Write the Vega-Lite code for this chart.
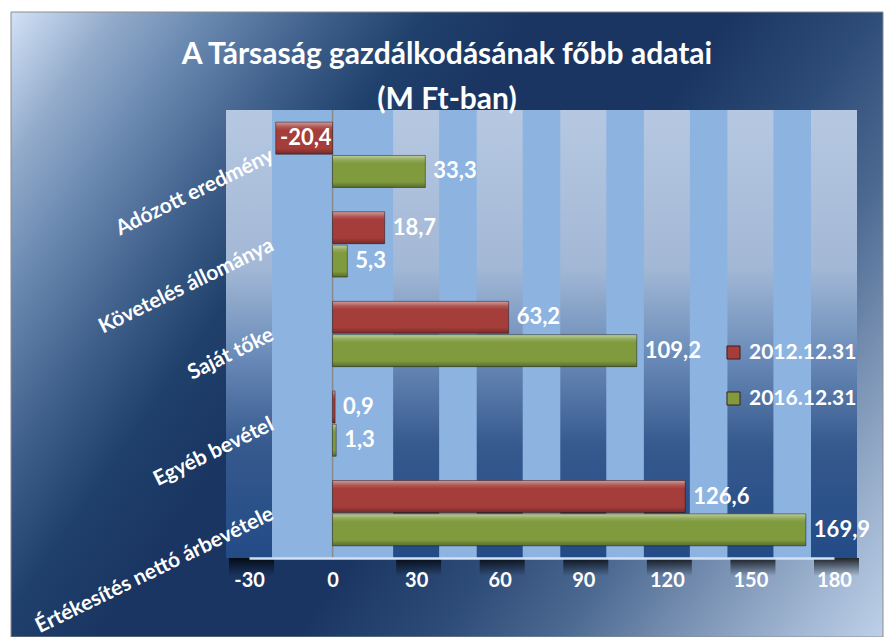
{
  "$schema": "https://vega.github.io/schema/vega-lite/v6.json",
  "width": 872,
  "height": 625,
  "autosize": {"type": "none"},
  "padding": {"left": 11, "top": 12, "right": 5, "bottom": 0},
  "background": "white",
  "config": {
    "locale": {"number": {"decimal": ",", "thousands": " ", "grouping": [3], "currency": ["", " Ft"], "minus": "-"}},
    "view": {"stroke": null},
    "font": "Lato"
  },
  "title": {
    "text": ["A Társaság gazdálkodásának főbb adatai", "(M Ft-ban)"],
    "anchor": "middle",
    "frame": "group",
    "font": "Lato",
    "fontSize": 30,
    "fontWeight": "bold",
    "color": "white",
    "lineHeight": 45,
    "baseline": "top",
    "offset": -103
  },
  "datasets": {
    "bars": [
      {"tetel": "Adózott eredmény", "ev": "2012.12.31", "ertek": -20.4},
      {"tetel": "Adózott eredmény", "ev": "2016.12.31", "ertek": 33.3},
      {"tetel": "Követelés állománya", "ev": "2012.12.31", "ertek": 18.7},
      {"tetel": "Követelés állománya", "ev": "2016.12.31", "ertek": 5.3},
      {"tetel": "Saját tőke", "ev": "2012.12.31", "ertek": 63.2},
      {"tetel": "Saját tőke", "ev": "2016.12.31", "ertek": 109.2},
      {"tetel": "Egyéb bevétel", "ev": "2012.12.31", "ertek": 0.9},
      {"tetel": "Egyéb bevétel", "ev": "2016.12.31", "ertek": 1.3},
      {"tetel": "Értékesítés nettó árbevétele", "ev": "2012.12.31", "ertek": 126.6},
      {"tetel": "Értékesítés nettó árbevétele", "ev": "2016.12.31", "ertek": 169.9}
    ],
    "grid": [{"g": -30}, {"g": 30}, {"g": 60}, {"g": 90}, {"g": 120}, {"g": 150}, {"g": 180}]
  },
  "resolve": {"scale": {"y": "independent"}},
  "layer": [
    {
      "layer": [
        {
          "data": {"values": [{}]},
          "mark": {
            "type": "rect",
            "stroke": "#8c8c8c",
            "strokeWidth": 1,
            "fill": {
              "gradient": "linear", "x1": 0, "y1": 0, "x2": 1.2, "y2": 0.6,
              "stops": [
                {"offset": 0, "color": "#d2e2f6"},
                {"offset": 0.08, "color": "#93abcb"},
                {"offset": 0.16, "color": "#6585ad"},
                {"offset": 0.24, "color": "#40608c"},
                {"offset": 0.32, "color": "#20406c"},
                {"offset": 0.4, "color": "#1a3562"},
                {"offset": 0.55, "color": "#1a3562"},
                {"offset": 0.66, "color": "#2e4c78"},
                {"offset": 0.75, "color": "#4a6890"},
                {"offset": 0.84, "color": "#7890b2"},
                {"offset": 0.93, "color": "#a0b6d2"},
                {"offset": 1, "color": "#bed0e8"}
              ]
            }
          },
          "encoding": {}
        },
        {
          "data": {"values": [{}]},
          "mark": {"type": "rect", "fill": "#8db3e0"},
          "encoding": {
            "x": {"datum": -30, "type": "quantitative", "title": null},
            "x2": {"datum": 180},
            "y": {"datum": 0, "type": "quantitative", "scale": {"domain": [0, 1], "range": [98, 546]}, "axis": null},
            "y2": {"datum": 1}
          }
        },
        {
          "data": {"name": "grid"},
          "mark": {
            "type": "rect", "xOffset": -20, "x2Offset": 25,
            "fill": {
              "gradient": "linear", "x1": 0, "y1": 0, "x2": 0, "y2": 1,
              "stops": [
                {"offset": 0, "color": "rgba(0,0,0,0.8)"},
                {"offset": 0.5, "color": "rgba(0,0,0,0.4)"},
                {"offset": 1, "color": "rgba(0,0,0,0)"}
              ]
            }
          },
          "encoding": {
            "x": {"field": "g", "type": "quantitative", "title": null},
            "x2": {"field": "g"},
            "y": {"datum": 1, "type": "quantitative", "scale": {"domain": [0, 1], "range": [98, 546]}, "axis": null},
            "y2": {"datum": 1.04}
          }
        },
        {
          "data": {"name": "grid"},
          "mark": {
            "type": "rect", "xOffset": -23, "x2Offset": 23,
            "fill": {
              "gradient": "linear", "x1": 0, "y1": 0, "x2": 0, "y2": 1,
              "stops": [
                {"offset": 0, "color": "#b6c8e1"},
                {"offset": 0.35, "color": "#a3b8d6"},
                {"offset": 0.55, "color": "#6a8bb8"},
                {"offset": 0.75, "color": "#36598e"},
                {"offset": 1, "color": "#234b86"}
              ]
            }
          },
          "encoding": {
            "x": {"field": "g", "type": "quantitative", "title": null},
            "x2": {"field": "g"},
            "y": {"datum": 0, "type": "quantitative", "scale": {"domain": [0, 1], "range": [98, 546]}, "axis": null},
            "y2": {"datum": 1}
          }
        },
        {
          "data": {"values": [{}]},
          "mark": {"type": "rule", "color": "#8a8a8a", "strokeWidth": 1.5},
          "encoding": {
            "x": {"datum": 0, "type": "quantitative", "title": null},
            "y": {"datum": 0, "type": "quantitative", "scale": {"domain": [0, 1], "range": [98, 546]}, "axis": null},
            "y2": {"datum": 1}
          }
        }
      ]
    },
    {
      "data": {"name": "bars"},
      "encoding": {
        "y": {
          "field": "tetel", "type": "nominal", "sort": null, "title": null,
          "scale": {"range": [98, 546], "paddingInner": 0, "paddingOuter": 0},
          "axis": {
            "orient": "left", "offset": -261, "domain": false, "ticks": false, "tickSize": 0,
            "labelPadding": 0, "labelAngle": -26, "labelAlign": "right", "labelBaseline": "middle",
            "labelOffset": 0, "labelFont": "Lato", "labelFontSize": 21, "labelFontWeight": "bold",
            "labelColor": "white", "labelLimit": 0, "labelOverlap": false, "grid": false, "zindex": 2
          }
        },
        "yOffset": {
          "field": "ev", "type": "nominal", "sort": null,
          "scale": {"paddingInner": 0.04, "paddingOuter": 0.365}
        },
        "x": {
          "field": "ertek", "type": "quantitative", "title": null,
          "scale": {"domain": [-30, 180], "range": [238, 823], "nice": false},
          "axis": {
            "values": [-30, 0, 30, 60, 90, 120, 150, 180], "format": "d", "offset": -79,
            "domainColor": "#d2e2f4", "domainWidth": 2.5, "ticks": false, "tickSize": 0,
            "labelPadding": 12, "labelFont": "Lato", "labelFontSize": 20, "labelFontWeight": "bold",
            "labelColor": "white", "labelFlush": false, "grid": false, "zindex": 2
          }
        }
      },
      "layer": [
        {
          "mark": {"type": "bar"},
          "encoding": {
            "color": {
              "field": "ev", "type": "nominal",
              "scale": {"domain": ["2012.12.31", "2016.12.31"], "range": ["#a53d3a", "#7f9b3e"]},
              "legend": {
                "orient": "none", "legendX": 712, "legendY": 330, "title": null,
                "symbolType": "square", "symbolSize": 170, "symbolStrokeColor": "#3a2020", "symbolStrokeWidth": 1,
                "labelFont": "Lato", "labelFontSize": 21, "labelFontWeight": "bold", "labelColor": "white",
                "rowPadding": 24, "labelOffset": 5
              }
            }
          }
        },
        {
          "mark": {
            "type": "bar", "stroke": "rgba(0,0,0,0.4)", "strokeWidth": 1,
            "fill": {
              "gradient": "linear", "x1": 0, "y1": 0, "x2": 0, "y2": 1,
              "stops": [
                {"offset": 0, "color": "rgba(255,255,255,0.5)"},
                {"offset": 0.14, "color": "rgba(255,255,255,0.15)"},
                {"offset": 0.25, "color": "rgba(255,255,255,0)"},
                {"offset": 0.82, "color": "rgba(0,0,0,0)"},
                {"offset": 1, "color": "rgba(0,0,0,0.3)"}
              ]
            }
          }
        },
        {
          "transform": [{"filter": "datum.ertek >= 0"}],
          "mark": {"type": "text", "align": "left", "baseline": "middle", "dx": 8, "font": "Lato", "fontSize": 22, "fontWeight": "bold", "fill": "white"},
          "encoding": {"text": {"field": "ertek", "type": "quantitative", "format": ".1f"}}
        },
        {
          "transform": [{"filter": "datum.ertek < 0"}],
          "mark": {"type": "text", "align": "right", "baseline": "middle", "dx": -1, "font": "Lato", "fontSize": 22, "fontWeight": "bold", "fill": "white"},
          "encoding": {
            "x": {"datum": 0, "type": "quantitative"},
            "text": {"field": "ertek", "type": "quantitative", "format": ".1f"}
          }
        }
      ]
    }
  ]
}
